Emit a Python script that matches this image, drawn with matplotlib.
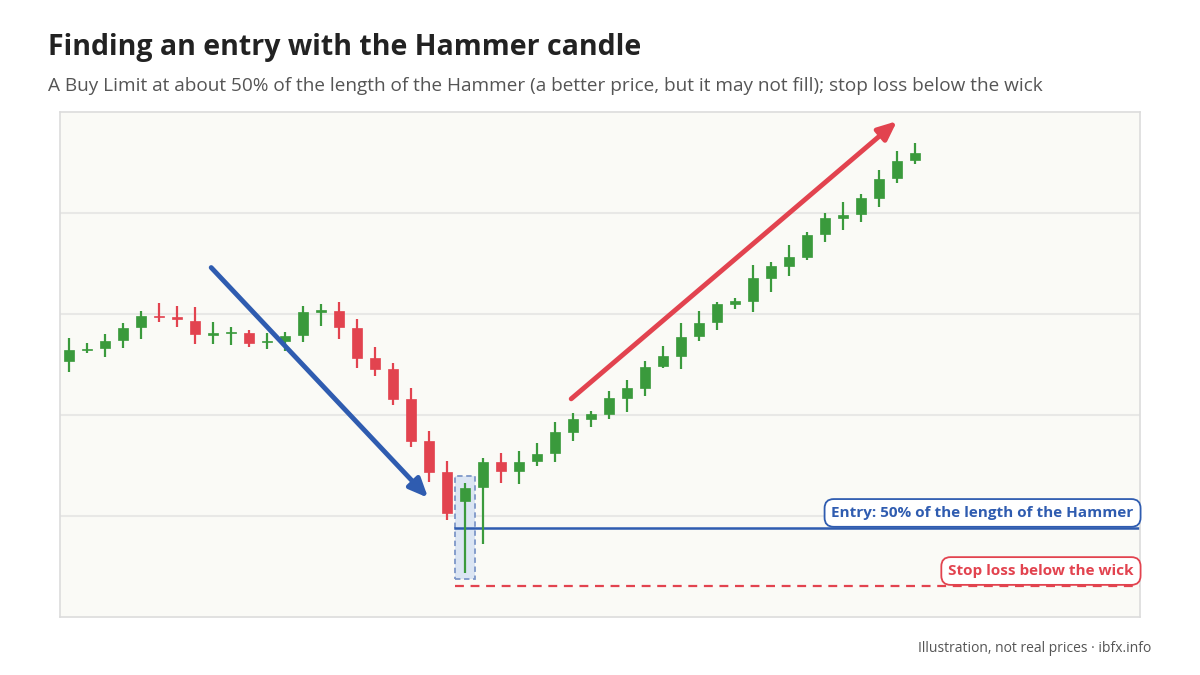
import matplotlib.pyplot as plt
from matplotlib.patches import Rectangle, FancyArrowPatch

# candle data (open, high, low, close), one per bar
opens  = [25.3, 26.4, 26.6, 27.4, 28.7, 29.8, 29.7, 29.3, 27.95, 28.1, 28.1, 27.2,
          27.3, 27.9, 30.2, 30.3, 28.6, 25.6, 24.6, 21.6, 17.4, 14.4, 11.5, 12.9,
          15.3, 14.5, 15.4, 16.2, 18.3, 19.6, 20.1, 21.7, 22.7, 24.9, 25.8, 27.8,
          29.2, 31.0, 31.3, 33.6, 34.8, 35.6, 37.9, 39.5, 39.9, 41.5, 43.5, 45.3]
highs  = [27.6, 27.1, 28.0, 29.1, 30.3, 31.1, 30.8, 30.7, 29.2, 28.7, 28.4, 28.1,
          28.2, 30.8, 31.0, 31.2, 29.5, 26.7, 25.1, 22.7, 18.4, 15.4, 13.3, 15.7,
          16.2, 16.4, 17.2, 19.3, 20.2, 20.4, 22.4, 23.5, 25.3, 26.8, 29.1, 30.3,
          31.2, 31.6, 34.9, 35.2, 36.8, 38.1, 40.0, 41.1, 41.9, 44.3, 46.1, 46.9]
lows   = [24.3, 26.1, 25.7, 26.6, 27.5, 29.2, 28.7, 27.0, 27.0, 26.9, 26.7, 26.5,
          26.3, 27.2, 28.8, 27.5, 24.7, 23.9, 21.0, 16.8, 13.4, 9.6, 4.4, 7.2,
          13.3, 13.2, 14.9, 15.3, 17.4, 18.8, 19.6, 20.3, 21.9, 24.7, 24.6, 27.3,
          28.4, 30.5, 30.2, 32.2, 33.8, 35.3, 37.1, 38.3, 39.1, 40.6, 43.0, 44.9]
closes = [26.4, 26.5, 27.3, 28.6, 29.8, 29.7, 29.5, 28.0, 28.05, 28.2, 27.1, 27.3,
          27.8, 30.2, 30.3, 28.7, 25.6, 24.6, 21.6, 17.4, 14.4, 10.3, 12.8, 15.3,
          14.5, 15.3, 16.1, 18.3, 19.6, 20.1, 21.7, 22.7, 24.8, 25.8, 27.7, 29.1,
          31.0, 31.3, 33.6, 34.8, 35.6, 37.8, 39.5, 39.8, 41.5, 43.4, 45.2, 45.9]

hammer_idx = 22
stop_price = 3.1
blue_arrow = [(7.9, 34.6), (19.95, 11.8)]
red_arrow = [(27.9, 21.6), (46.0, 49.1)]

green = '#3a9a3c'
red = '#e2434f'
blue = '#2f5cb0'

plt.rcParams['font.family'] = ['Open Sans', 'DejaVu Sans']

fig = plt.figure(figsize=(12, 6.75), dpi=100)
ax = fig.add_axes([0.05, 0.086, 0.90, 0.748])
ax.set_facecolor('#fafaf6')
ax.set_xlim(-0.5, 59.5)
ax.set_ylim(0, 50)
ax.set_xticks([])
ax.set_yticks([10, 20, 30, 40])
ax.tick_params(left=False, labelleft=False)
ax.grid(axis='y', color='#e8e8e6', lw=1.5)
ax.set_axisbelow(True)
for s in ax.spines.values():
    s.set_color('#dcdcdc')
    s.set_linewidth(1.2)

# hammer highlight
hi = highs[hammer_idx]
lo = lows[hammer_idx]
ax.add_patch(Rectangle((hammer_idx - 0.53, lo - 0.65), 1.06, hi - lo + 1.3,
                       facecolor='#dbe5f3', edgecolor='#7d97c8', ls=(0, (3, 2)),
                       lw=1.3, zorder=1))

w = 0.6
for i in range(len(opens)):
    o, h, l, c = opens[i], highs[i], lows[i], closes[i]
    col = green if c >= o else red
    ax.plot([i, i], [l, h], color=col, lw=1.6, zorder=3, solid_capstyle='butt')
    bot = min(o, c)
    ht = max(abs(c - o), 0.15)
    ax.add_patch(Rectangle((i - w / 2, bot), w, ht, facecolor=col,
                           edgecolor=col, lw=0.5, zorder=4))

# entry and stop lines
entry = (hi + lo) / 2
ax.plot([hammer_idx - 0.53, 59.5], [entry, entry], color=blue, lw=1.8, zorder=2)
ax.plot([hammer_idx - 0.53, 59.5], [stop_price, stop_price], color=red, lw=1.6,
        ls=(0, (4, 3)), zorder=2)

ax.text(59.15, entry + 1.45, 'Entry: 50% of the length of the Hammer', color=blue,
        fontsize=11, fontweight='bold', ha='right', va='center', zorder=6,
        bbox=dict(boxstyle='round,pad=0.45,rounding_size=0.6', fc='white',
                  ec=blue, lw=1.3), clip_on=False)
ax.text(59.15, stop_price + 1.45, 'Stop loss below the wick', color=red,
        fontsize=11, fontweight='bold', ha='right', va='center', zorder=6,
        bbox=dict(boxstyle='round,pad=0.45,rounding_size=0.6', fc='white',
                  ec=red, lw=1.3), clip_on=False)

# trend arrows
for pts, col in [(blue_arrow, blue), (red_arrow, red)]:
    ax.add_patch(FancyArrowPatch(pts[0], pts[1], arrowstyle='-|>,head_length=8,head_width=3.5',
                                 color=col, lw=3.5, mutation_scale=1.4, zorder=5,
                                 shrinkA=0, shrinkB=0))

fig.text(0.04, 0.929, 'Finding an entry with the Hammer candle', fontsize=20.5,
         fontweight='bold', color='#222222', va='center')
fig.text(0.04, 0.872, 'A Buy Limit at about 50% of the length of the Hammer (a better price, '
         'but it may not fill); stop loss below the wick', fontsize=13.7,
         color='#555555', va='center')
fig.text(0.959, 0.040, 'Illustration, not real prices \u00b7 ibfx.info', fontsize=10,
         color='#555555', ha='right', va='center')

fig.savefig('out.png', dpi=100, facecolor='white')
